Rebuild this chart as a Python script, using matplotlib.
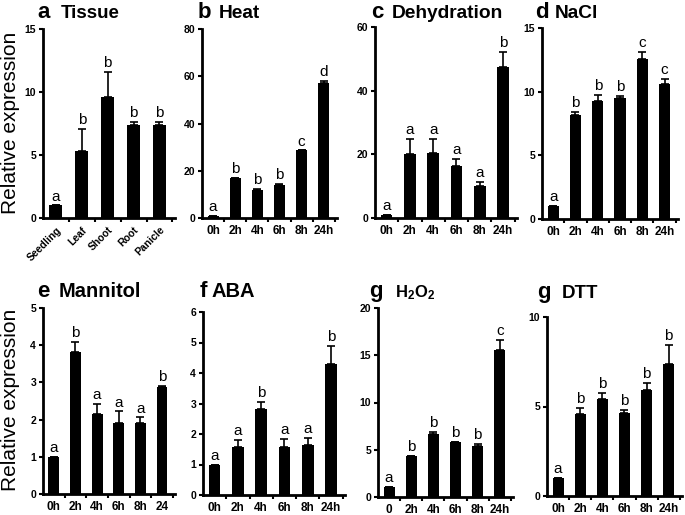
import numpy as np
import matplotlib
matplotlib.use("Agg")
import matplotlib.pyplot as plt
from matplotlib.ticker import FixedLocator

plt.rcParams['font.family'] = ['Liberation Sans', 'DejaVu Sans']
plt.rcParams['mathtext.fontset'] = 'custom'
plt.rcParams['mathtext.bf'] = 'Liberation Sans:bold'
plt.rcParams['mathtext.rm'] = 'Liberation Sans'

# --- dati ---------------------------------------------------------------
hours = ["0h", "2h", "4h", "6h", "8h", "24h"]

tissue_lab = ["Seedling", "Leaf", "Shoot", "Root", "Panicle"]
tissue_val = [1.0, 5.35, 9.6, 7.4, 7.4]
tissue_err = [0.0, 1.7, 2.0, 0.2, 0.2]
tissue_let = ["a", "b", "b", "b", "b"]

heat_val = [0.8, 16.8, 11.7, 13.9, 28.6, 57.3]
heat_err = [0.2, 0.0, 0.7, 0.5, 0.0, 0.6]
heat_let = ["a", "b", "b", "b", "c", "d"]

dehy_val = [0.8, 20.1, 20.3, 16.4, 10.1, 47.5]
dehy_err = [0.1, 4.6, 4.6, 2.2, 1.3, 4.8]
dehy_let = ["a", "a", "a", "a", "a", "b"]

nacl_val = [1.0, 8.15, 9.25, 9.5, 12.6, 10.6]
nacl_err = [0.0, 0.25, 0.5, 0.16, 0.55, 0.37]
nacl_let = ["a", "b", "b", "b", "c", "c"]

mann_lab = ["0h", "2h", "4h", "6h", "8h", "24"]
mann_val = [1.0, 3.83, 2.16, 1.92, 1.9, 2.87]
mann_err = [0.0, 0.26, 0.25, 0.3, 0.16, 0.03]
mann_let = ["a", "b", "a", "a", "a", "b"]

aba_val = [1.0, 1.58, 2.83, 1.56, 1.64, 4.28]
aba_err = [0.0, 0.22, 0.23, 0.27, 0.22, 0.62]
aba_let = ["a", "a", "b", "a", "a", "b"]

h2o2_lab = ["0", "2h", "4h", "6h", "8h", "24h"]
h2o2_val = [1.02, 4.34, 6.63, 5.82, 5.36, 15.56]
h2o2_err = [0.0, 0.0, 0.25, 0.05, 0.25, 1.1]
h2o2_let = ["a", "b", "b", "b", "b", "c"]

dtt_val = [1.02, 4.58, 5.44, 4.66, 5.94, 7.37]
dtt_err = [0.0, 0.33, 0.31, 0.15, 0.39, 1.08]
dtt_let = ["a", "b", "b", "b", "b", "b"]

# --- pannelli -------------------------------------------------------------
# (lettera, titolo, dim titolo, etichette, valori, errori, lettere, yticks,
#  riquadro assi [l, b, r, t] in px, titolo (x lettera, x testo, baseline) in px)
pannelli = [
    ("a", "Tissue", 13.5, tissue_lab, tissue_val, tissue_err, tissue_let, [0, 5, 10, 15],
     [43, 218, 175, 29], (37, 61, 18)),
    ("b", "Heat", 13.8, hours, heat_val, heat_err, heat_let, [0, 20, 40, 60, 80],
     [202, 218, 337, 29], (198, 219, 18)),
    ("c", "Dehydration", 13.8, hours, dehy_val, dehy_err, dehy_let, [0, 20, 40, 60],
     [375, 218, 517, 27], (371, 392, 18)),
    ("d", "NaCl", 13.8, hours, nacl_val, nacl_err, nacl_let, [0, 5, 10, 15],
     [542, 219, 678, 28], (535, 555, 18)),
    ("e", "Mannitol", 14.5, mann_lab, mann_val, mann_err, mann_let, [0, 1, 2, 3, 4, 5],
     [43, 494, 175, 308], (37, 59, 297)),
    ("f", "ABA", 14.5, hours, aba_val, aba_err, aba_let, [0, 1, 2, 3, 4, 5, 6],
     [203, 495, 345, 312], (200, 212, 297)),
    ("g", r"$\mathbf{H_2O_2}$", 12, h2o2_lab, h2o2_val, h2o2_err, h2o2_let, [0, 5, 10, 15, 20],
     [378, 497, 513, 308], (369, 395, 297)),
    ("g", "DTT", 13.5, hours, dtt_val, dtt_err, dtt_let, [0, 5, 10],
     [547, 496, 682, 317], (537, 562, 298)),
]

W, H = 685, 515
fig = plt.figure(figsize=(W / 100, H / 100), dpi=100)

for lettera, titolo, fs_tit, labels, vals, errs, lets, yt, (l, b, r, t), (xl, xt, yb) in pannelli:
    ax = fig.add_axes([l / W, 1 - b / H, (r - l) / W, (b - t) / H])
    n = len(vals)
    x = np.arange(n)
    ax.bar(x, vals, width=0.5, color="black")
    ax.errorbar(x, vals, yerr=[np.zeros(n), errs], fmt="none", ecolor="black",
                elinewidth=1.2, capsize=3, capthick=1.2)
    ymax = yt[-1]
    for xi, v, e, s in zip(x, vals, errs, lets):
        ax.text(xi, v + e + ymax * 0.01, s, ha="center", va="bottom", fontsize=11)
    ax.set_xlim(-0.5, n - 0.4)
    ax.set_ylim(0, ymax)
    ax.set_yticks(yt)
    ax.set_xticks(x)
    rot = 45 if lettera == "a" else 0
    ax.set_xticklabels(labels, rotation=rot, ha="right" if rot else "center",
                       rotation_mode="anchor" if rot else "default",
                       fontsize=7.5 if rot else 8.5, fontweight="bold")
    ax.xaxis.set_minor_locator(FixedLocator(np.arange(n) + 0.5))
    ax.tick_params(axis="x", which="major", length=0, pad=5)
    ax.tick_params(axis="x", which="minor", length=3, width=1.5)
    ax.tick_params(axis="y", length=3, width=1.5, labelsize=7.5, pad=2)
    for lab in ax.get_yticklabels():
        lab.set_fontweight("bold")
    for sp in ["top", "right"]:
        ax.spines[sp].set_visible(False)
    for sp in ["left", "bottom"]:
        ax.spines[sp].set_linewidth(2)
    # titolo del pannello
    fig.text(xl / W, 1 - yb / H, lettera, fontsize=16, fontweight="bold",
             ha="left", va="baseline")
    fig.text(xt / W, 1 - yb / H, titolo, fontsize=fs_tit, fontweight="bold",
             ha="left", va="baseline")

fig.text(11 / W, 1 - 123 / H, "Relative expression", rotation=90, fontsize=15,
         ha="center", va="center")
fig.text(11 / W, 1 - 400 / H, "Relative expression", rotation=90, fontsize=15,
         ha="center", va="center")

fig.savefig("out.png", dpi=100)
